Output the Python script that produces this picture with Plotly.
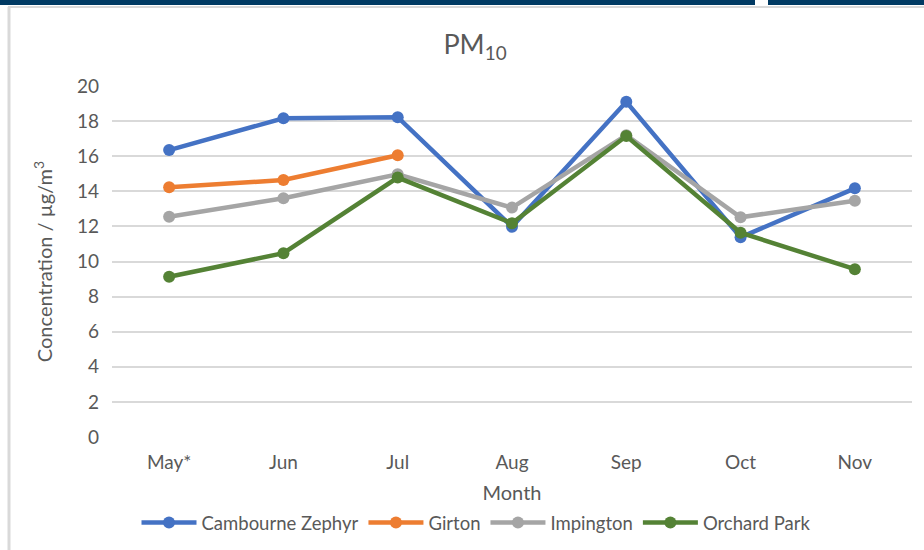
import plotly.graph_objects as go

months = ["May*", "Jun", "Jul", "Aug", "Sep", "Oct", "Nov"]
cambourne = [16.35, 18.16, 18.22, 11.98, 19.1, 11.38, 14.17]
girton = [14.23, 14.64, 16.05, None, None, None, None]
impington = [12.55, 13.6, 14.97, 13.07, 17.2, 12.52, 13.46]
orchard = [9.13, 10.47, 14.78, 12.18, 17.15, 11.64, 9.56]

series_names = ["Cambourne Zephyr", "Girton", "Impington", "Orchard Park"]
series_values = [cambourne, girton, impington, orchard]
colors = ["#4472C4", "#ED7D31", "#A5A5A5", "#548235"]

W, H = 924, 550
L, R, T, B = 112, 12, 86, 113
pw, ph = W - L - R, H - T - B

def px_x(px):
    return (px - L) / pw

def px_y(py):
    return (H - B - py) / ph

FONT = "Lato"
TXT = "#595959"

fig = go.Figure()
for name, vals, c in zip(series_names, series_values, colors):
    fig.add_trace(go.Scatter(
        x=months, y=vals, name=name, mode="lines+markers",
        line=dict(color=c, width=4.5), marker=dict(color=c, size=12),
        connectgaps=False,
    ))

shapes = [
    dict(type="rect", xref="paper", yref="paper", x0=px_x(0), x1=px_x(755), y0=px_y(5), y1=px_y(0),
         fillcolor="#003A63", line_width=0, layer="above"),
    dict(type="rect", xref="paper", yref="paper", x0=px_x(768), x1=px_x(924), y0=px_y(5), y1=px_y(0),
         fillcolor="#003A63", line_width=0, layer="above"),
    dict(type="line", xref="paper", yref="paper", x0=px_x(8), x1=px_x(924), y0=px_y(7), y1=px_y(7),
         line=dict(color="#D9D9D9", width=2)),
    dict(type="line", xref="paper", yref="paper", x0=px_x(9), x1=px_x(9), y0=px_y(7), y1=px_y(550),
         line=dict(color="#D9D9D9", width=3)),
]

fig.update_layout(
    width=W, height=H,
    margin=dict(l=L, r=R, t=T, b=B, autoexpand=False),
    paper_bgcolor="white", plot_bgcolor="white",
    font=dict(family=FONT, color=TXT, size=18),
    title=dict(text="PM<sub>10</sub>", x=475 / W, xref="container", xanchor="center",
               y=1 - 45 / H, yref="container", yanchor="middle",
               font=dict(family=FONT, size=27, color=TXT)),
    xaxis=dict(showgrid=False, showline=False, zeroline=False, ticks="", automargin=False,
               ticklabelstandoff=12, tickfont=dict(size=19, color=TXT),
               title=dict(text="Month", font=dict(size=20, color=TXT), standoff=13),
               range=[-0.5, 6.5]),
    yaxis=dict(range=[0, 20], dtick=2, showgrid=True, gridcolor="#D9D9D9", gridwidth=1.5,
               zeroline=False, showline=False, ticks="", ticklabelstandoff=12, automargin=False,
               tickfont=dict(size=19, color=TXT),
               title=dict(text="Concentration / µg/m<sup>3</sup>", font=dict(size=20, color=TXT), standoff=18)),
    legend=dict(orientation="h", xref="container", x=476 / W, xanchor="center",
                yref="container", y=1 - 523 / H, yanchor="middle",
                font=dict(size=18.5, color=TXT), itemwidth=55, tracegroupgap=0),
    shapes=shapes,
    showlegend=True,
)

fig.write_html("out.html", config={"displayModeBar": False},
               post_script="document.body.style.margin='0';")
